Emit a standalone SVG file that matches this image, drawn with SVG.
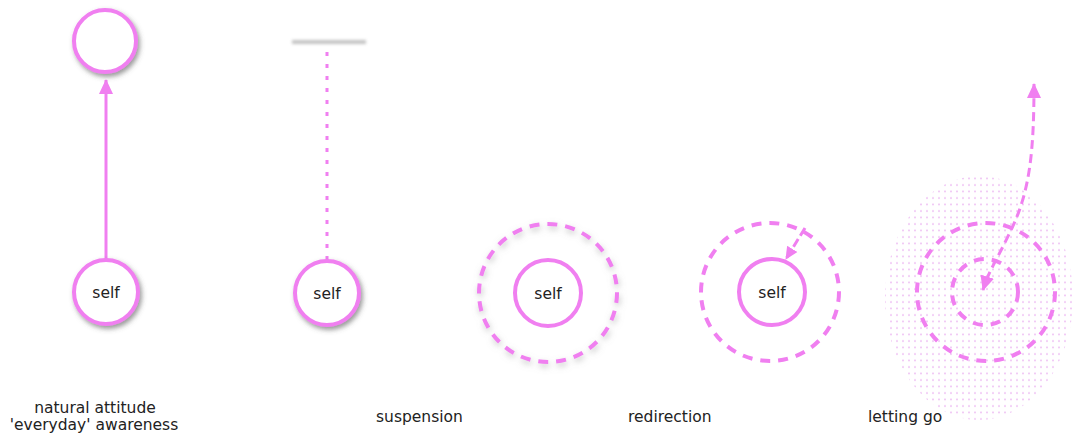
<svg xmlns="http://www.w3.org/2000/svg" width="1082" height="435" viewBox="0 0 1082 435">
<style>
.node{fill:#fff;stroke:#f07ff0;stroke-width:4}
.ring{fill:none;stroke:#f07ff0;stroke-width:4;stroke-dasharray:10 8}
.lbl{font-family:"DejaVu Sans",Verdana,sans-serif;font-size:15.5px;fill:#222}
.self{font-family:"DejaVu Sans",Verdana,sans-serif;font-size:15.5px;fill:#222;text-anchor:middle}
.conn{fill:none;stroke:#f07ff0;stroke-width:3}
</style>
<defs>
<filter id="sh" x="-30%" y="-30%" width="160%" height="160%">
<feDropShadow dx="2" dy="3" stdDeviation="2.5" flood-color="#555" flood-opacity="0.6"/>
</filter>
<filter id="glow" x="-30%" y="-30%" width="160%" height="160%">
<feDropShadow dx="1" dy="3" stdDeviation="3" flood-color="#888" flood-opacity="0.5"/>
</filter>
<filter id="blur" x="-20%" y="-200%" width="140%" height="500%">
<feGaussianBlur stdDeviation="1.8"/>
</filter>
<marker id="ah" markerUnits="userSpaceOnUse" markerWidth="16" markerHeight="16" refX="14" refY="7" orient="auto-start-reverse" viewBox="0 0 16 14">
<path d="M0,0 L15,7 L0,14 Z" fill="#f07ff0"/>
</marker>
<marker id="ahs" markerUnits="userSpaceOnUse" markerWidth="14" markerHeight="14" refX="12" refY="6" orient="auto" viewBox="0 0 14 12">
<path d="M0,0 L13,6 L0,12 Z" fill="#f07ff0"/>
</marker>
<pattern id="dots" width="6" height="6.5" patternUnits="userSpaceOnUse">
<circle cx="3" cy="3" r="0.9" fill="#ebb6f2"/>
</pattern>
</defs>

<g id="field">
<ellipse cx="979" cy="298" rx="94" ry="122" fill="url(#dots)"/>
</g>

<g id="connectors">
<line class="conn" x1="106" y1="260" x2="106" y2="80" marker-end="url(#ah)"/>
<line class="conn" x1="327" y1="260" x2="327" y2="48" stroke-dasharray="4 8"/>
<line class="conn" x1="805" y1="228" x2="786" y2="259" stroke-dasharray="9 4" marker-end="url(#ahs)"/>
<path class="conn" d="M1034 84 C1034 150 1030 190 1012 228 S990 268 983 290" stroke-dasharray="9 5" marker-start="url(#ah)" marker-end="url(#ah)"/>
</g>

<g id="n1-top">
<circle class="node" cx="105" cy="41" r="31" filter="url(#sh)"/>
</g>
<g id="n1-self">
<circle class="node" cx="106" cy="292" r="32" filter="url(#sh)"/>
<text class="self" x="106" y="298">self</text>
</g>

<g id="n2-bar">
<rect x="292" y="40" width="74" height="4" fill="#c4c4c4" filter="url(#blur)"/>
</g>
<g id="n2-self">
<circle class="node" cx="327" cy="293" r="32" filter="url(#sh)"/>
<text class="self" x="327" y="299">self</text>
</g>

<g id="n3-ring">
<circle class="ring" cx="548" cy="293" r="69" filter="url(#glow)"/>
</g>
<g id="n3-self">
<circle class="node" cx="548" cy="293" r="33"/>
<text class="self" x="548" y="299">self</text>
</g>

<g id="n4-ring">
<circle class="ring" cx="770" cy="292" r="69"/>
</g>
<g id="n4-self">
<circle class="node" cx="772" cy="292" r="33"/>
<text class="self" x="772" y="298">self</text>
</g>

<g id="n5-outer">
<circle class="ring" cx="986" cy="292" r="69" stroke-width="3.5"/>
</g>
<g id="n5-inner">
<circle class="ring" cx="985" cy="292" r="33" stroke-width="3.5" stroke-dasharray="9 6"/>
</g>

<g id="labels">
<text class="lbl" x="95" y="413" text-anchor="middle">natural attitude</text>
<text class="lbl" x="94" y="430" text-anchor="middle">'everyday' awareness</text>
<text class="lbl" x="376" y="422">suspension</text>
<text class="lbl" x="628" y="422">redirection</text>
<text class="lbl" x="868" y="422">letting go</text>
</g>
</svg>
